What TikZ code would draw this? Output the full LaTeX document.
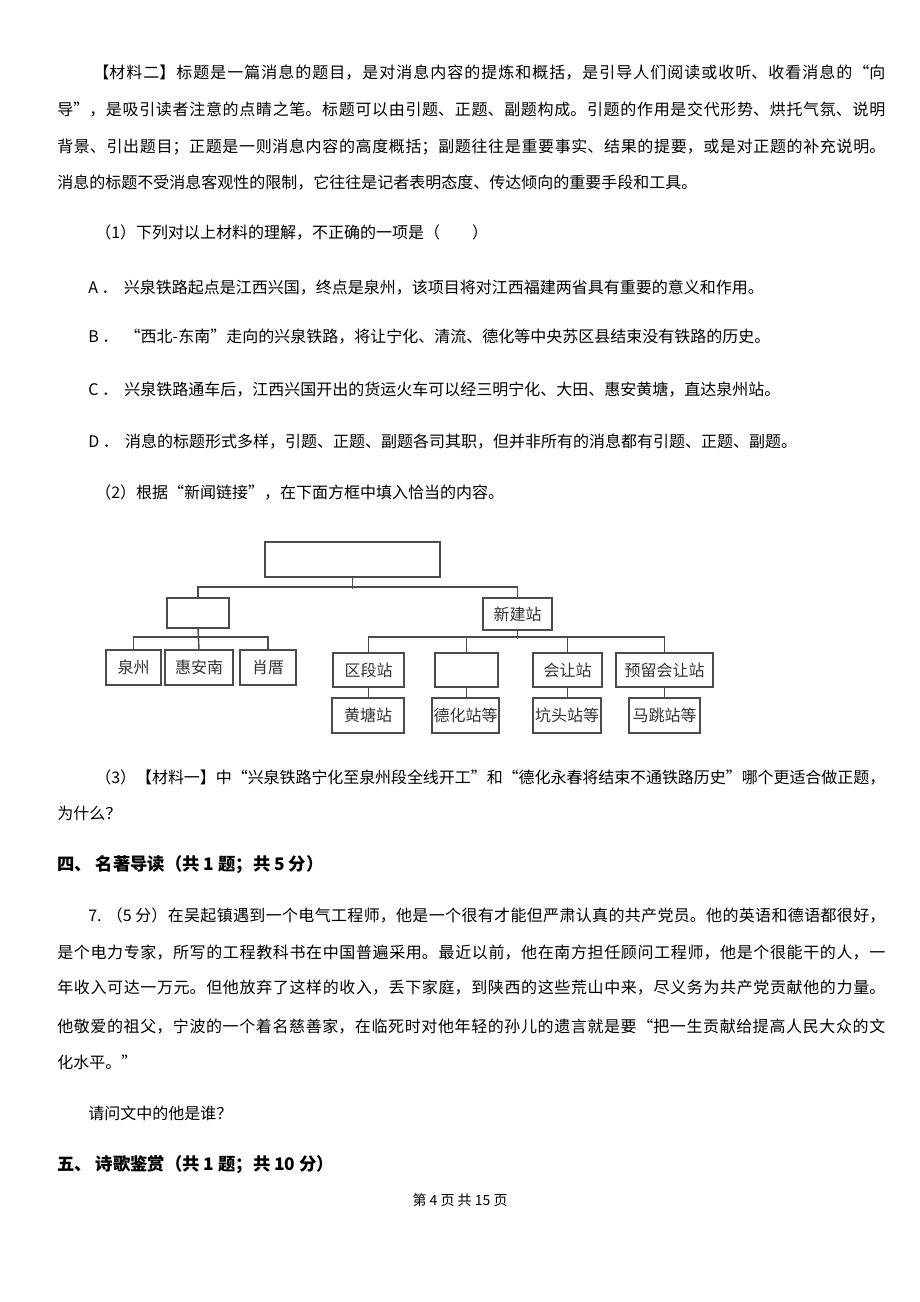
\documentclass[tikz,border=0pt]{standalone}
\usepackage{fontspec}
\newfontfamily\cjk{Noto Sans CJK SC}
\XeTeXlinebreaklocale "zh"
\XeTeXlinebreakskip = 0pt plus 3pt minus 1pt

% one pixel of the page
\newcommand{\pxs}{*0.75pt}

\tikzset{
	txt/.style = {anchor=west, inner sep=0pt, font=\cjk\fontsize{12}{14}\selectfont},
	head/.style = {anchor=west, inner sep=0pt, font=\cjk\bfseries\fontsize{13}{15}\selectfont},
	box/.style = {draw=black!70, line width=1.3pt, inner sep=0pt, text=black!80,
		font=\cjk\fontsize{12}{14}\selectfont},
	link/.style = {black!70, line width=1.1pt},
}

% one line of text, stretched up to the right margin
\newcommand{\jline}[4]{\node[txt] (#1) at (#2,#3) {\parbox{\dimexpr 885pt*3/4-#2pt*3/4\relax}{\tolerance=9999\parfillskip=0pt\relax #4}};}

\begin{document}
\begin{tikzpicture}[x = 0.75pt, y = -0.75pt]
	\useasboundingbox[fill=white] (0,0) rectangle (920,1302);
	
	% material two
	\jline{ma}{93}{73}{【材料二】标题是一篇消息的题目，是对消息内容的提炼和概括，是引导人们阅读或收听、收看消息的“向}
	\jline{mb}{57}{110}{导”，是吸引读者注意的点睛之笔。标题可以由引题、正题、副题构成。引题的作用是交代形势、烘托气氛、说明}
	\jline{mc}{57}{147}{背景、引出题目；正题是一则消息内容的高度概括；副题往往是重要事实、结果的提要，或是对正题的补充说明。}
	\node[txt] (md) at (57,183) {消息的标题不受消息客观性的限制，它往往是记者表明态度、传达倾向的重要手段和工具。};
	
	% question 1
	\node[txt] (qa) at (95,233) {（1）下列对以上材料的理解，不正确的一项是（　　）};
	\node[txt] (oa) at (88,288) {A ．\hspace{0.4em}兴泉铁路起点是江西兴国，终点是泉州，该项目将对江西福建两省具有重要的意义和作用。};
	\node[txt] (ob) at (88,337) {B ．\hspace{0.4em}“西北-东南”走向的兴泉铁路，将让宁化、清流、德化等中央苏区县结束没有铁路的历史。};
	\node[txt] (oc) at (88,390) {C ．\hspace{0.4em}兴泉铁路通车后，江西兴国开出的货运火车可以经三明宁化、大田、惠安黄塘，直达泉州站。};
	\node[txt] (od) at (88,442) {D ．\hspace{0.4em}消息的标题形式多样，引题、正题、副题各司其职，但并非所有的消息都有引题、正题、副题。};
	\node[txt] (qb) at (95,493) {（2）根据“新闻链接”，在下面方框中填入恰当的内容。};
	
	% tree
	\node[box, minimum width=175\pxs, minimum height=35\pxs] (top) at (352.5,559.5) {};
	\node[box, minimum width=62\pxs, minimum height=30\pxs] (old) at (198,613) {};
	\node[box, minimum width=69\pxs, minimum height=32\pxs] (new) at (517.5,614) {新建站};
	
	\node[box, minimum width=55\pxs, minimum height=35\pxs] (qz) at (133.5,667.5) {泉州};
	\node[box, minimum width=68\pxs, minimum height=35\pxs] (ha) at (199,667.5) {惠安南};
	\node[box, minimum width=56\pxs, minimum height=35\pxs] (xc) at (268,667.5) {肖厝};
	
	\node[box, minimum width=71\pxs, minimum height=34\pxs] (qd) at (368.5,670) {区段站};
	\node[box, minimum width=63\pxs, minimum height=34\pxs] (kb) at (466.5,670) {};
	\node[box, minimum width=69\pxs, minimum height=34\pxs] (hr) at (567.5,670) {会让站};
	\node[box, minimum width=97\pxs, minimum height=34\pxs] (yl) at (664.5,670) {预留会让站};
	
	\node[box, minimum width=72\pxs, minimum height=35\pxs] (ht) at (368,715.5) {黄塘站};
	\node[box, minimum width=67\pxs, minimum height=35\pxs] (dh) at (465.5,715.5) {德化站等};
	\node[box, minimum width=68\pxs, minimum height=35\pxs] (kt) at (567,715.5) {坑头站等};
	\node[box, minimum width=71\pxs, minimum height=35\pxs] (mt) at (664.5,715.5) {马跳站等};
	
	\draw[link] (top.south) -- ++(0,11);
	\draw[link] (old.north) -- ++(0,-10) -| (new.north);
	\draw[link] (old.south) -- (ha.north);
	\draw[link] (qz.north) -- ++(0,-12) -| (xc.north);
	\draw[link] (new.south) -- ++(0,8);
	\draw[link] (qd.north) -- ++(0,-15) -| (yl.north);
	\draw[link] (kb.north) -- ++(0,-15);
	\draw[link] (hr.north) -- ++(0,-15);
	\foreach \a/\b in {qd/ht, kb/dh, hr/kt, yl/mt}
		\draw[link] (\a.south) -- (\a.south |- \b.north);
	
	% question 3
	\jline{qc}{95}{777}{（3）【材料一】中“兴泉铁路宁化至泉州段全线开工”和“德化永春将结束不通铁路历史”哪个更适合做正题，}
	\node[txt] (qd2) at (57,813) {为什么？};
	
	% part four
	\node[head] (p4) at (57,865) {四、 名著导读（共 1 题；共 5 分）};
	\jline{sa}{88}{915}{7. （5 分）在吴起镇遇到一个电气工程师，他是一个很有才能但严肃认真的共产党员。他的英语和德语都很好，}
	\jline{sb}{57}{953}{是个电力专家，所写的工程教科书在中国普遍采用。最近以前，他在南方担任顾问工程师，他是个很能干的人，一}
	\jline{sc}{57}{988}{年收入可达一万元。但他放弃了这样的收入，丢下家庭，到陕西的这些荒山中来，尽义务为共产党贡献他的力量。}
	\jline{sd}{57}{1027}{他敬爱的祖父，宁波的一个着名慈善家，在临死时对他年轻的孙儿的遗言就是要“把一生贡献给提高人民大众的文}
	\node[txt] (se) at (57,1062) {化水平。”};
	\node[txt] (sq) at (88,1113) {请问文中的他是谁？};
	
	% part five
	\node[head] (p5) at (57,1165) {五、 诗歌鉴赏（共 1 题；共 10 分）};
	\node[inner sep=0pt, font=\cjk\fontsize{10.5}{12}\selectfont] (foot) at (460,1200) {第 4 页 共 15 页};
	
\end{tikzpicture}
\end{document}
